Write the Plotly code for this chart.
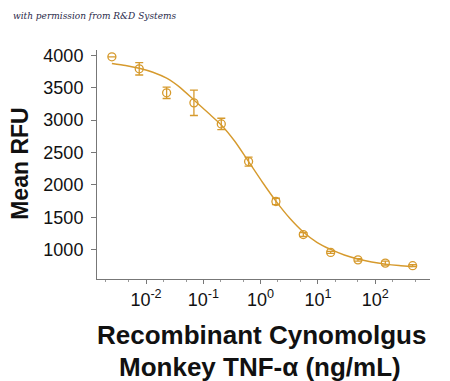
import plotly.graph_objects as go

# Data
conc = [0.00254, 0.00762, 0.0229, 0.0686, 0.206, 0.617, 1.85, 5.56, 16.7, 50, 150, 450]
rfu = [3975, 3790, 3420, 3265, 2940, 2360, 1745, 1235, 960, 845, 795, 755]
rfu_err = [0, 95, 88, 195, 88, 70, 50, 30, 15, 20, 30, 15]

curve_conc = [0.00254, 0.0044, 0.00762, 0.0132, 0.0229, 0.0396, 0.0686, 0.131, 0.206, 0.357,
              0.617, 1.07, 1.85, 3.2, 5.56, 9.6, 16.7, 28.9, 50, 86.6, 150, 260, 450]
curve_rfu = [3872, 3842, 3799, 3737, 3645, 3500, 3310, 3085, 2925, 2670,
             2360, 2045, 1750, 1490, 1275, 1115, 1005, 920, 858, 812, 780, 758, 743]

tick_vals_y = [1000, 1500, 2000, 2500, 3000, 3500, 4000]
tick_vals_x = [0.01, 0.1, 1, 10, 100]
tick_text_x = ["10<sup>-2</sup>", "10<sup>-1</sup>", "10<sup>0</sup>", "10<sup>1</sup>", "10<sup>2</sup>"]

color = "#D69A2D"

fig = go.Figure()
fig.add_trace(go.Scatter(
    x=curve_conc, y=curve_rfu, mode="lines",
    line=dict(color=color, width=1.4, shape="spline", smoothing=0.6),
    hoverinfo="skip", showlegend=False,
))
fig.add_trace(go.Scatter(
    x=conc, y=rfu, mode="markers",
    marker=dict(symbol="circle-open", size=8, color=color, line=dict(width=1.3, color=color)),
    error_y=dict(type="data", array=rfu_err, visible=True, color=color, thickness=1.3, width=4),
    showlegend=False,
))

font_main = "Liberation Sans, Arial, sans-serif"
# page body has an 8px default margin, so the figure is 8px smaller and offset
fig.update_layout(
    width=442, height=373,
    margin=dict(l=89, r=20, t=42, b=102),
    paper_bgcolor="white", plot_bgcolor="white",
    font=dict(family=font_main, color="#111111"),
    xaxis=dict(
        type="log", range=[-2.855, 2.956], automargin=False,
        tickvals=tick_vals_x, ticktext=tick_text_x,
        tickfont=dict(size=18), showgrid=False, zeroline=False,
        showline=True, linecolor="#777777", linewidth=1,
        ticks="outside", ticklen=4, tickcolor="#777777",
        minor=dict(ticks="outside", ticklen=2, tickcolor="#999999", showgrid=False),
    ),
    yaxis=dict(
        range=[550, 4080], tickvals=tick_vals_y, automargin=False,
        tickfont=dict(size=18), showgrid=False, zeroline=False,
        showline=True, linecolor="#777777", linewidth=1,
        ticks="outside", ticklen=5, tickcolor="#777777", ticklabelstandoff=4,
    ),
    annotations=[
        dict(text="<i>with permission from R&amp;D Systems</i>",
             xref="paper", yref="paper", x=-0.258, y=1.148, xanchor="left", yanchor="middle",
             showarrow=False, font=dict(family="DejaVu Serif, serif", size=9, color="#2a2a4a")),
        dict(text="<b>Mean RFU</b>", textangle=-90,
             xref="paper", yref="paper", x=-0.232, y=0.502, xanchor="center", yanchor="middle",
             showarrow=False, font=dict(family=font_main, size=23, color="#111111")),
        dict(text="<b>Recombinant Cynomolgus</b>",
             xref="paper", yref="paper", x=0.495, y=-0.245, xanchor="center", yanchor="middle",
             showarrow=False, font=dict(family=font_main, size=26, color="#111111")),
        dict(text="<b>Monkey TNF-α (ng/mL)</b>",
             xref="paper", yref="paper", x=0.489, y=-0.384, xanchor="center", yanchor="middle",
             showarrow=False, font=dict(family=font_main, size=26, color="#111111")),
    ],
)

fig.write_html("out.html")
